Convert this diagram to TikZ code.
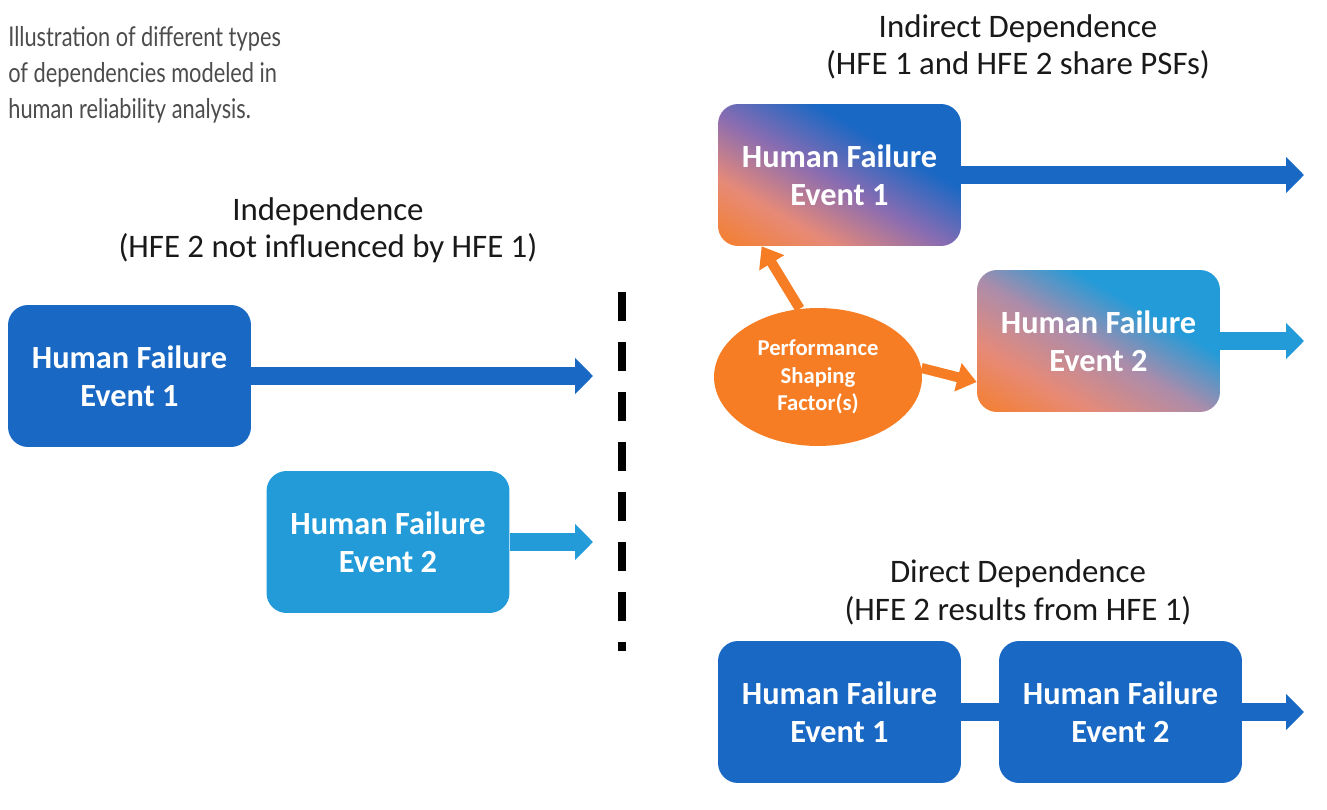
\documentclass[tikz,border=0pt]{standalone}
\usepackage{xcolor}
\usepackage{fontspec}
\setmainfont{Carlito}
\newfontfamily\capfont[FakeStretch=0.8]{Lato}
\usepackage{tikz}
\usetikzlibrary{shapes.geometric,arrows.meta,calc}

\definecolor{hfedark}{RGB}{24,104,196}
\definecolor{hfelight}{RGB}{34,155,216}
\definecolor{psforange}{RGB}{246,125,36}
\definecolor{hfesalmon}{RGB}{230,138,120}
\definecolor{hfeviolet}{RGB}{136,108,178}
\definecolor{hfemauve}{RGB}{172,140,170}

\pgfdeclarehorizontalshading{hfedarkshade}{100bp}{color(0bp)=(psforange); color(14bp)=(psforange); color(32bp)=(hfesalmon); color(48bp)=(hfeviolet); color(64bp)=(hfedark); color(100bp)=(hfedark)}
\pgfdeclarehorizontalshading{hfelightshade}{100bp}{color(0bp)=(psforange); color(14bp)=(psforange); color(32bp)=(hfesalmon); color(48bp)=(hfemauve); color(64bp)=(hfelight); color(100bp)=(hfelight)}

\tikzset{
  hfebox/.style={rounded corners=0.4cm, minimum width=4.86cm, minimum height=2.84cm,
    inner sep=0pt, align=center, text=white, font=\fontsize{18.4}{21.6}\selectfont\bfseries},
  fatarrow/.style={line width=9.7pt, -{Triangle[length=10.2pt,width=20pt]}},
  psfarrow/.style={psforange, line width=5.7pt, -{Triangle[length=11pt,width=16pt]}},
  title/.style={anchor=base, inner sep=0pt, text=black!90, font=\fontsize{18.7}{22}\selectfont},
  caption/.style={anchor=base west, inner sep=0pt, text=black!70, font=\capfont\fontsize{15.5}{20}\selectfont}
}

\begin{document}
\begin{tikzpicture}[x=0.02cm, y=-0.02cm]
    \useasboundingbox (0,0) rectangle (1327,810);

    % Caption
    \foreach \i/\txt in {0/{Illustration of different types}, 1/{of dependencies modeled in}, 2/{human reliability analysis.}}
        \node[caption] (cap\i) at (8,47+36*\i) {\txt};

    % Independence
    \node[title] (indep) at (328,221) {Independence};
    \node[title] (indepsub) at (328,258) {(HFE 2 not influenced by HFE 1)};
    \node[hfebox, fill=hfedark] (L1) at (129.5,376) {Human Failure\\Event 1};
    \node[hfebox, fill=hfelight] (L2) at (388,542) {Human Failure\\Event 2};
    \coordinate (L1end) at (593,376);
    \coordinate (L2end) at (593,542);
    \draw[fatarrow, hfedark] (L1.east) -- (L1end);
    \draw[fatarrow, hfelight] (L2.east) -- (L2end);

    % Divider
    \coordinate (divtop) at (622,292);
    \coordinate (divbot) at (622,651);
    \draw[line width=4.55pt, dash pattern=on 16.5pt off 11.95pt] (divtop) -- (divbot);

    % Indirect dependence
    \node[title] (indir) at (1018,38) {Indirect Dependence};
    \node[title] (indirsub) at (1018,75) {(HFE 1 and HFE 2 share PSFs)};
    \node[hfebox, shade, shading=hfedarkshade, shading angle=60] (R1) at (839.5,175) {Human Failure\\Event 1};
    \node[hfebox, shade, shading=hfelightshade, shading angle=60] (R2) at (1098.5,341) {Human Failure\\Event 2};
    \coordinate (R1end) at (1304,175);
    \coordinate (R2end) at (1304,341);
    \draw[fatarrow, hfedark] (R1.east) -- (R1end);
    \draw[fatarrow, hfelight] (R2.east) -- (R2end);

    % Shared PSFs
    \node[ellipse, fill=psforange, minimum width=4.16cm, minimum height=2.76cm, inner sep=0pt,
        align=center, text=white, font=\fontsize{12.9}{15.6}\selectfont\bfseries] (psf) at (818,377)
        {Performance\\Shaping\\Factor(s)};
    \draw[psfarrow] (psf.105) -- ($(R1.south west)+(44,0)$);
    \draw[psfarrow] (psf.5) -- ($(R2.west)+(0,41)$);

    % Direct dependence
    \node[title] (dir) at (1018,582) {Direct Dependence};
    \node[title] (dirsub) at (1018,620) {(HFE 2 results from HFE 1)};
    \node[hfebox, fill=hfedark] (D1) at (839.5,712) {Human Failure\\Event 1};
    \node[hfebox, fill=hfedark] (D2) at (1120.5,712) {Human Failure\\Event 2};
    \coordinate (D2end) at (1304,712);
    \draw[hfedark, line width=10.2pt] (D1.east) -- (D2.west);
    \draw[fatarrow, hfedark] (D2.east) -- (D2end);
\end{tikzpicture}
\end{document}
